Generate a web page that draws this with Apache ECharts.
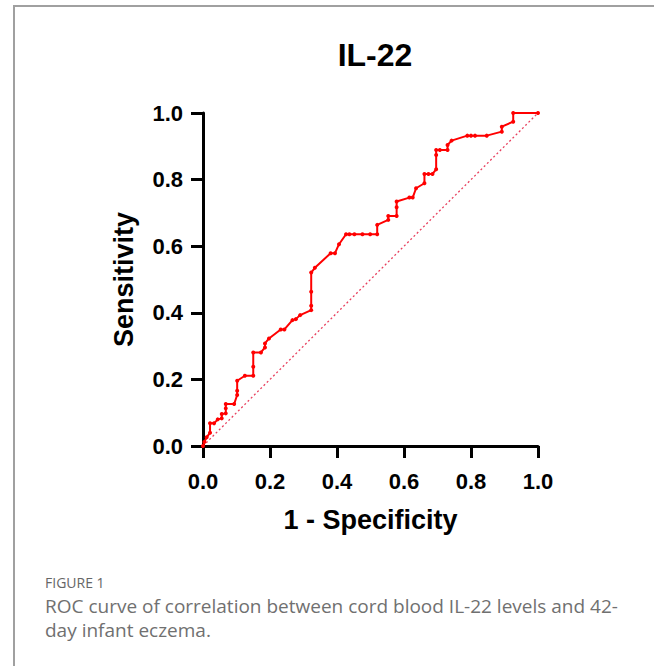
<!DOCTYPE html>
<html>
<head>
<meta charset="utf-8">
<script src="https://cdn.jsdelivr.net/npm/echarts@6/dist/echarts.min.js"></script>
<style>
  html, body { margin: 0; padding: 0; background: #fff; }
  #wrap { position: relative; width: 654px; height: 666px; overflow: hidden; }
  #frame { position: absolute; left: 13px; top: 5px; width: 660px; height: 700px;
           border-left: 2px solid #a0a0a0; border-top: 2px solid #a0a0a0; }
  #chart { position: absolute; left: 0; top: 0; width: 654px; height: 560px; }
  #figlabel { position: absolute; left: 45px; top: 573px; font-family: "Open Sans", sans-serif;
              font-size: 14px; color: #666; }
  #caption { position: absolute; left: 45px; top: 594px; font-family: "Open Sans", sans-serif;
             font-size: 19px; line-height: 24px; color: #707070; width: 610px; }
</style>
</head>
<body>
<div id="wrap">
  <div id="frame"></div>
  <div id="chart"></div>
  <div id="figlabel">FIGURE 1</div>
  <div id="caption">ROC curve of correlation between cord blood IL-22 levels and 42-<br>day infant eczema.</div>
</div>
<script>
const chartTitle = "IL-22";
const xAxisName = "1 - Specificity";
const yAxisName = "Sensitivity";
const tickValues = [0, 0.2, 0.4, 0.6, 0.8, 1.0];

// 1 - Specificity (false positive rate)
const fpr = [0, 0.004, 0.011, 0.021, 0.021, 0.033, 0.044, 0.056, 0.056, 0.068, 0.068, 0.068,
  0.093, 0.102, 0.102, 0.102, 0.125, 0.150, 0.150, 0.150, 0.173, 0.185, 0.185, 0.197,
  0.232, 0.243, 0.267, 0.277, 0.290, 0.323, 0.323, 0.323, 0.323, 0.334, 0.381, 0.394,
  0.406, 0.427, 0.437, 0.452, 0.476, 0.499, 0.520, 0.520, 0.553, 0.553, 0.578, 0.578,
  0.578, 0.616, 0.626, 0.636, 0.661, 0.661, 0.673, 0.685, 0.696, 0.696, 0.696, 0.707,
  0.730, 0.730, 0.742, 0.789, 0.800, 0.812, 0.847, 0.892, 0.892, 0.926, 0.926, 1.0];
// Sensitivity (true positive rate)
const tpr = [0, 0.012, 0.026, 0.040, 0.068, 0.068, 0.080, 0.083, 0.096, 0.098, 0.113, 0.126,
  0.126, 0.153, 0.166, 0.196, 0.211, 0.211, 0.238, 0.281, 0.281, 0.296, 0.308, 0.323,
  0.350, 0.350, 0.378, 0.381, 0.393, 0.408, 0.421, 0.463, 0.521, 0.535, 0.579, 0.579,
  0.606, 0.636, 0.636, 0.636, 0.636, 0.636, 0.636, 0.664, 0.679, 0.691, 0.691, 0.717,
  0.734, 0.746, 0.746, 0.774, 0.789, 0.817, 0.817, 0.817, 0.831, 0.874, 0.889, 0.889,
  0.889, 0.904, 0.917, 0.932, 0.932, 0.932, 0.932, 0.944, 0.959, 0.974, 1.0, 1.0];
const referenceLine = [[0, 0], [1, 1]];

const rocData = fpr.map((x, i) => [x, tpr[i]]);

const chart = echarts.init(document.getElementById('chart'), null, { renderer: 'svg' });
const axisCommon = {
  type: 'value', min: 0, max: 1, interval: 0.2,
  nameLocation: 'middle',
  nameTextStyle: { fontFamily: 'Liberation Sans', fontWeight: 'bold', fontSize: 27, color: '#000' },
  axisLine: { show: true, onZero: false, lineStyle: { color: '#000', width: 3 } },
  axisTick: { show: true, length: 12, lineStyle: { color: '#000', width: 3 } },
  axisLabel: { fontFamily: 'Liberation Sans', fontWeight: 'bold', fontSize: 22, color: '#000',
               formatter: v => v.toFixed(1) },
  splitLine: { show: false }
};
chart.setOption({
  animation: false,
  title: { text: chartTitle, left: 370, top: 34, textAlign: 'center',
           textStyle: { fontFamily: 'Liberation Sans', fontWeight: 'bold', fontSize: 32, color: '#000' } },
  grid: { left: 203, top: 113, width: 335, height: 333, containLabel: false },
  xAxis: Object.assign({}, axisCommon, { name: xAxisName, nameGap: 60,
    axisLabel: Object.assign({}, axisCommon.axisLabel, { margin: 24 }) }),
  yAxis: Object.assign({}, axisCommon, { name: yAxisName, nameGap: 66,
    axisLabel: Object.assign({}, axisCommon.axisLabel, { margin: 20 }) }),
  series: [
    { type: 'line', data: referenceLine, symbol: 'none', silent: true,
      lineStyle: { color: '#e8405e', width: 1.3, type: [2, 2.5] } },
    { type: 'line', data: rocData, symbol: 'circle', symbolSize: 4,
      itemStyle: { color: '#ff0000' }, lineStyle: { color: '#ff0000', width: 2 } }
  ]
});
</script>
</body>
</html>
